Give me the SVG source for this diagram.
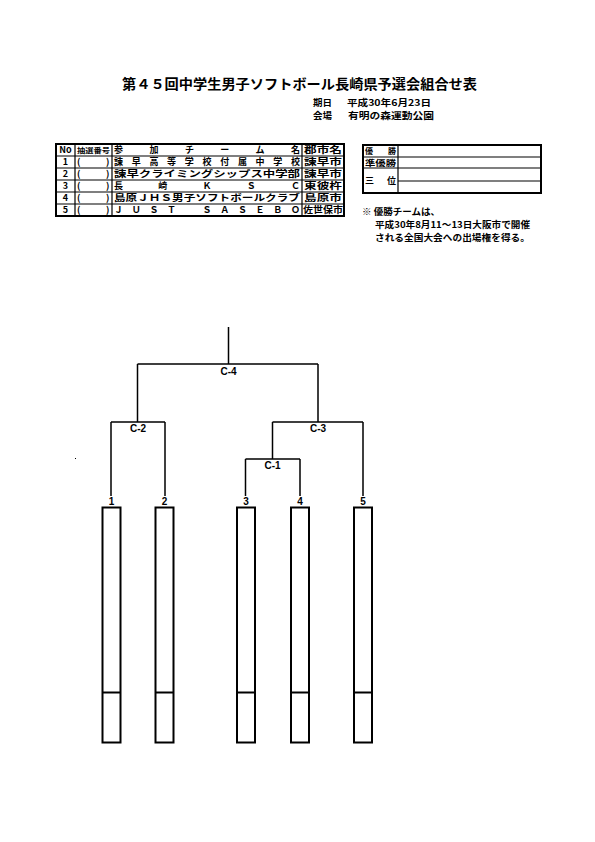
<svg xmlns="http://www.w3.org/2000/svg" width="595" height="842" viewBox="0 0 595 842">
<style>
text{font-family:"Noto Sans CJK JP","Liberation Sans",sans-serif;font-weight:700;fill:#000}
.t10{font-size:10px}
.t9{font-size:9px}
.t8{font-size:8px}
.lab{font-family:"Liberation Sans","Noto Sans CJK JP",sans-serif;font-size:10px;font-weight:700}
.ln{stroke:#000;stroke-width:1.5;fill:none}
.thin{stroke:#000;stroke-width:1.2;fill:none}
.box{stroke:#000;stroke-width:2;fill:none}
.mid{text-anchor:middle}
</style>
<rect width="595" height="842" fill="#fff"/>
<g id="header">
<text x="122" y="89" style="font-size:13.5px" textLength="355" lengthAdjust="spacingAndGlyphs">第４５回中学生男子ソフトボール長崎県予選会組合せ表</text>
<text class="t9" x="313" y="105.5" textLength="19" lengthAdjust="spacingAndGlyphs">期日</text>
<text class="t9" x="347" y="105.5" textLength="84" lengthAdjust="spacingAndGlyphs">平成30年6月23日</text>
<text class="t9" x="313" y="118.5" textLength="19" lengthAdjust="spacingAndGlyphs">会場</text>
<text class="t9" x="348" y="118.5" textLength="86" lengthAdjust="spacingAndGlyphs">有明の森運動公園</text>
</g>
<g id="team-table">
<rect x="56" y="144" width="288" height="72" class="box"/>
<path class="thin" d="M56 156H344M56 168H344M56 180H344M56 192H344M56 204H344M75 144V216M112 144V216M302 144V216"/>
<text class="t9 mid" x="65.5" y="153.3">No</text>
<text x="77" y="152.8" style="font-size:7px" textLength="33" lengthAdjust="spacingAndGlyphs">抽選番号</text>
<text class="t9" x="114" y="153.3" textLength="186" lengthAdjust="spacing">参加チーム名</text>
<text class="t9" x="304" y="153.3" textLength="38" lengthAdjust="spacingAndGlyphs">郡市名</text>
<text class="t9 mid" x="65.5" y="165.3">1</text>
<text class="t9 mid" x="65.5" y="177.3">2</text>
<text class="t9 mid" x="65.5" y="189.3">3</text>
<text class="t9 mid" x="65.5" y="201.3">4</text>
<text class="t9 mid" x="65.5" y="213.3">5</text>
<g class="t9">
<text x="77" y="165.3">(</text><text x="106" y="165.3">)</text>
<text x="77" y="177.3">(</text><text x="106" y="177.3">)</text>
<text x="77" y="189.3">(</text><text x="106" y="189.3">)</text>
<text x="77" y="201.3">(</text><text x="106" y="201.3">)</text>
<text x="77" y="213.3">(</text><text x="106" y="213.3">)</text>
</g>
<text class="t9" x="114" y="165.3" textLength="186" lengthAdjust="spacing">諫早高等学校付属中学校</text>
<text class="t9" x="114" y="177.3" textLength="186" lengthAdjust="spacingAndGlyphs">諫早クライミングシップス中学部</text>
<text class="t9" x="114" y="189.3" textLength="186" lengthAdjust="spacing">長崎ＫＳＣ</text>
<text class="t9" x="114" y="201.3" textLength="186" lengthAdjust="spacingAndGlyphs">島原ＪＨＳ男子ソフトボールクラブ</text>
<text class="t9" x="114" y="213.3" textLength="186" lengthAdjust="spacing">ＪＵＳＴ　ＳＡＳＥＢＯ</text>
<text class="t9" x="304" y="165.3" textLength="38" lengthAdjust="spacingAndGlyphs">諫早市</text>
<text class="t9" x="304" y="177.3" textLength="38" lengthAdjust="spacingAndGlyphs">諫早市</text>
<text class="t9" x="304" y="189.3" textLength="38" lengthAdjust="spacingAndGlyphs">東彼杵</text>
<text class="t9" x="304" y="201.3" textLength="38" lengthAdjust="spacingAndGlyphs">島原市</text>
<text class="t9" x="303" y="213.3" textLength="40" lengthAdjust="spacingAndGlyphs">佐世保市</text>
</g>
<g id="result-table">
<rect x="363" y="145" width="178" height="48" class="box"/>
<path class="thin" d="M363 157H541M363 168H541M398 181H541M398 145V193"/>
<text class="t8" x="365" y="154" textLength="31" lengthAdjust="spacing">優勝</text>
<text class="t8" x="365" y="165.5" textLength="31" lengthAdjust="spacingAndGlyphs">準優勝</text>
<text class="t9" x="365" y="183.8" textLength="31" lengthAdjust="spacing">三位</text>
</g>
<g id="note">
<text class="t9" x="362" y="214.5" textLength="78" lengthAdjust="spacingAndGlyphs">※ 優勝チームは、</text>
<text class="t9" x="375" y="227.5" textLength="155" lengthAdjust="spacingAndGlyphs">平成30年8月11～13日大阪市で開催</text>
<text class="t9" x="375" y="240.5" textLength="155" lengthAdjust="spacingAndGlyphs">される全国大会への出場権を得る。</text>
</g>
<g id="connectors">
<path class="ln" d="M228.5 327V364M137.5 364H318M137.5 364V422M318 364V422M111 422H165M111 422V496M165 422V496M272.5 422H363M272.5 422V459M363 422V496M245.5 459H300M245.5 459V496M300 459V496"/>
</g>
<g id="match-labels">
<text class="lab mid" x="228.5" y="375">C-4</text>
<text class="lab mid" x="138" y="432">C-2</text>
<text class="lab mid" x="318" y="432">C-3</text>
<text class="lab mid" x="272.5" y="469">C-1</text>
</g>
<g id="slot1"><text class="lab mid" x="111.5" y="505">1</text><rect class="box" x="102.5" y="507.5" width="18" height="235"/><path class="box" d="M102.5 692.5H120.5"/></g>
<g id="slot2"><text class="lab mid" x="164.5" y="505">2</text><rect class="box" x="155.5" y="507.5" width="18" height="235"/><path class="box" d="M155.5 692.5H173.5"/></g>
<g id="slot3"><text class="lab mid" x="246" y="505">3</text><rect class="box" x="237" y="507.5" width="18" height="235"/><path class="box" d="M237 692.5H255"/></g>
<g id="slot4"><text class="lab mid" x="300" y="505">4</text><rect class="box" x="291" y="507.5" width="18" height="235"/><path class="box" d="M291 692.5H309"/></g>
<g id="slot5"><text class="lab mid" x="363" y="505">5</text><rect class="box" x="354" y="507.5" width="18" height="235"/><path class="box" d="M354 692.5H372"/></g>
<rect x="75" y="458" width="1" height="1" fill="#000"/>
</svg>
